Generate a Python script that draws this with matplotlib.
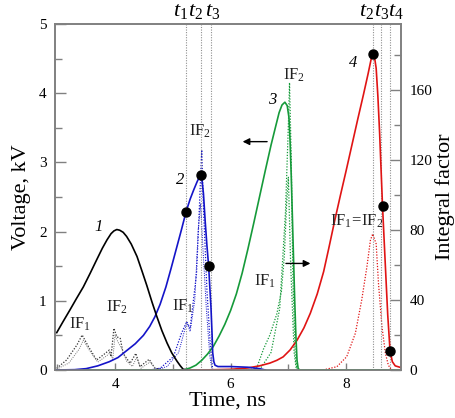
import numpy as np
import matplotlib
matplotlib.use("Agg")
import matplotlib.pyplot as plt
from matplotlib.ticker import MultipleLocator
import matplotlib.transforms as mtransforms

plt.rcParams['font.family'] = ['Liberation Serif', 'DejaVu Serif']
plt.rcParams['mathtext.fontset'] = 'custom'
plt.rcParams['mathtext.rm'] = 'Liberation Serif'
plt.rcParams['mathtext.it'] = 'Liberation Serif:italic'

# ---- voltage curves (kV), left axis ----
t1_ns = [2.99, 3.10, 3.22, 3.33, 3.45, 3.57, 3.68, 3.78, 3.86, 3.93, 3.98, 4.03, 4.08, 4.14, 4.20,
         4.28, 4.38, 4.47, 4.55, 4.64, 4.72, 4.81, 4.90, 4.98, 5.07, 5.13, 5.18, 5.25]
v1_kv = [0.54, 0.70, 0.87, 1.03, 1.20, 1.40, 1.59, 1.76, 1.88, 1.97, 2.01, 2.03, 2.02, 1.99, 1.93,
         1.82, 1.64, 1.42, 1.22, 0.98, 0.78, 0.57, 0.39, 0.25, 0.13, 0.06, 0.01, 0.0]

t2_ns = [2.96, 3.30, 3.50, 3.70, 3.90, 4.05, 4.20, 4.35, 4.49, 4.60, 4.69, 4.78, 4.88, 4.97, 5.06,
         5.15, 5.23, 5.30, 5.36, 5.42, 5.46, 5.48, 5.50, 5.53, 5.56, 5.59, 5.62, 5.64, 5.66, 5.68,
         5.69, 5.71, 5.73, 5.78, 6.00, 6.30, 6.50, 6.60]
v2_kv = [0.0, 0.005, 0.02, 0.06, 0.12, 0.18, 0.28, 0.38, 0.50, 0.63, 0.77, 0.95, 1.20, 1.47, 1.75,
         2.03, 2.29, 2.47, 2.60, 2.72, 2.79, 2.82, 2.78, 2.55, 2.15, 1.80, 1.50, 1.20, 0.91, 0.50,
         0.25, 0.12, 0.07, 0.05, 0.05, 0.04, 0.02, 0.0]

t3_ns = [2.96, 5.18, 5.30, 5.40, 5.50, 5.60, 5.70, 5.80, 5.90, 6.00, 6.10, 6.20, 6.30, 6.40, 6.50,
         6.60, 6.70, 6.78, 6.84, 6.89, 6.94, 6.98, 7.01, 7.03, 7.05, 7.07, 7.09, 7.11, 7.13, 7.15,
         7.17, 7.20, 8.95]
v3_kv = [0.0, 0.0, 0.03, 0.07, 0.14, 0.23, 0.34, 0.49, 0.66, 0.86, 1.10, 1.40, 1.75, 2.12, 2.50,
         2.88, 3.25, 3.52, 3.72, 3.83, 3.87, 3.82, 3.65, 3.30, 2.80, 2.20, 1.60, 1.00, 0.50, 0.14,
         0.02, 0.0, 0.0]

t4_ns = [4.95, 5.50, 6.00, 6.30, 6.50, 6.68, 6.80, 6.91, 7.03, 7.15, 7.27, 7.38, 7.50, 7.61, 7.70,
         7.80, 7.90, 8.00, 8.10, 8.20, 8.30, 8.38, 8.43, 8.46, 8.49, 8.52, 8.55, 8.58, 8.63, 8.68,
         8.72, 8.76, 8.80, 8.85, 8.93]
v4_kv = [0.0, 0.0, 0.01, 0.03, 0.06, 0.10, 0.14, 0.19, 0.29, 0.43, 0.61, 0.82, 1.10, 1.42, 1.76,
         2.15, 2.52, 2.88, 3.25, 3.62, 3.98, 4.28, 4.48, 4.57, 4.53, 4.36, 3.95, 3.42, 2.37, 1.49,
         0.80, 0.28, 0.12, 0.06, 0.04]

# marked points at t1, t2, t3 / t2, t3, t4
dot_t = [5.23, 5.48, 5.62, 8.46, 8.63, 8.76]
dot_v = [2.29, 2.82, 1.50, 4.57, 2.37, 0.28]

# ---- integral factor curves, right axis ----
if_black1_t = [2.99, 3.16, 3.34, 3.43, 3.54, 3.68, 3.83, 3.90, 3.93, 3.98, 4.03, 4.09, 4.14, 4.26, 4.36, 4.43, 4.59, 4.69, 4.90]
if_black1 = [1.0, 5.7, 14.3, 20.0, 13.3, 5.7, 9.5, 11.4, 7.6, 23.8, 19.0, 18.0, 9.5, 3.8, 9.5, 1.9, 6.1, 1.0, 0.0]
if_black2_t = [2.99, 3.20, 3.38, 3.45, 3.56, 3.70, 3.85, 3.92, 3.96, 4.00, 4.05, 4.12, 4.20, 4.30, 4.37, 4.45, 4.60, 4.72, 4.90]
if_black2 = [0.5, 4.0, 12.0, 17.0, 11.0, 4.5, 8.0, 10.0, 6.0, 20.0, 16.0, 12.0, 5.0, 2.0, 7.0, 1.0, 4.5, 0.5, 0.0]

if_blue1_t = [4.60, 4.78, 5.01, 5.15, 5.24, 5.30, 5.41, 5.46, 5.50, 5.53, 5.59, 5.65, 5.69, 6.5]
if_blue1 = [0.0, 1.0, 7.6, 21.0, 27.6, 23.8, 55.0, 93.0, 125.7, 93.0, 45.7, 13.3, 0.0, 0.0]
if_blue2_t = [4.70, 4.90, 5.10, 5.24, 5.30, 5.38, 5.44, 5.48, 5.52, 5.58, 5.64, 5.68]
if_blue2 = [0.0, 2.0, 10.0, 27.0, 22.0, 40.0, 80.0, 95.0, 70.0, 35.0, 8.0, 0.0]

if_green1_t = [6.30, 6.45, 6.57, 6.68, 6.80, 6.88, 6.93, 6.97, 7.00, 7.04, 7.10, 7.14, 8.95]
if_green1 = [0.0, 1.0, 12.0, 20.0, 32.0, 45.0, 65.0, 95.0, 110.0, 60.0, 10.0, 0.0, 0.0]
if_green2_t = [6.50, 6.70, 6.85, 6.95, 7.00, 7.02, 7.05, 7.08, 7.12, 7.15]
if_green2 = [0.0, 10.0, 35.0, 90.0, 140.0, 164.0, 120.0, 50.0, 8.0, 0.0]

if_red_t = [7.60, 7.84, 8.01, 8.16, 8.27, 8.36, 8.42, 8.46, 8.52, 8.56, 8.62, 8.68, 8.73, 8.78, 8.95]
if_red = [0.0, 1.9, 7.6, 21.0, 40.0, 59.0, 74.0, 77.7, 72.0, 49.5, 24.8, 9.5, 2.9, 0.0, 0.0]

# time markers
t_lines = [5.23, 5.49, 5.66, 8.46, 8.60, 8.76]
t_names = ['1', '2', '3', '2', '3', '4']

c_blue = '#1414c8'
c_green = '#169a3a'
c_red = '#e01414'
c_axis = '#808080'
dots = (0, (1, 1.3))

fig = plt.figure(figsize=(4.56, 4.18), dpi=100)
ax = fig.add_axes([0.1206, 0.1148, 0.7588, 0.8278])
ax2 = ax.twinx()

ax.set_xlim(2.96, 8.95)
ax.set_ylim(0, 5)
ax2.set_ylim(0, 197.5)

# integral factors (dotted)
ax2.plot(if_black1_t, if_black1, ls=dots, color='#333333', lw=0.9)
ax2.plot(if_black2_t, if_black2, ls=dots, color='#777777', lw=0.7)
ax2.plot(if_blue1_t, if_blue1, ls=dots, color=c_blue, lw=0.9)
ax2.plot(if_blue2_t, if_blue2, ls=dots, color=c_blue, lw=0.7)
ax2.plot(if_green1_t, if_green1, ls=dots, color=c_green, lw=0.9)
ax2.plot(if_green2_t, if_green2, ls=dots, color=c_green, lw=0.9)
ax2.plot(if_red_t, if_red, ls=dots, color=c_red, lw=0.9)

# vertical time marker lines
for x in t_lines:
    ax.axvline(x, color='#909090', ls=dots, lw=0.8, zorder=1)

# voltage curves
ax.plot(t4_ns, v4_kv, color=c_red, lw=1.2)
ax.plot(t3_ns, v3_kv, color=c_green, lw=1.2)
ax.plot(t2_ns, v2_kv, color=c_blue, lw=1.2)
ax.plot(t1_ns, v1_kv, color='black', lw=1.2)
ax.plot(dot_t, dot_v, 'o', color='black', ms=6.5, zorder=5)

ax.set_zorder(ax2.get_zorder() + 1)
ax.patch.set_visible(False)

# ticks / spines
for a in (ax, ax2):
    for s in a.spines.values():
        s.set_color(c_axis)
        s.set_linewidth(1.2)
ax.xaxis.set_major_locator(MultipleLocator(2))
ax.xaxis.set_minor_locator(MultipleLocator(1))
ax.yaxis.set_major_locator(MultipleLocator(1))
ax.yaxis.set_minor_locator(MultipleLocator(0.5))
ax2.yaxis.set_major_locator(MultipleLocator(40))
ax2.yaxis.set_minor_locator(MultipleLocator(20))
ax.tick_params(which='both', direction='in', color=c_axis, labelsize=11, width=1)
ax.tick_params(which='major', length=8, pad=6)
ax.tick_params(which='minor', length=5)
ax.tick_params(axis='x', which='major', length=5)
ax.tick_params(axis='x', which='minor', length=4)
ax.tick_params(top=False, right=False)
ax2.tick_params(which='both', direction='in', color=c_axis, labelsize=11, width=1)
ax2.tick_params(which='major', length=8, pad=6)
ax2.tick_params(which='minor', length=5)

ax.set_xlabel('Time, ns', fontsize=16, labelpad=0)
ax.set_ylabel('Voltage, kV', fontsize=16, labelpad=6)
ax2.set_ylabel('Integral factor', fontsize=16, labelpad=2)

# t labels above the axes
trans = mtransforms.blended_transform_factory(ax.transData, ax.transAxes)
t_label_x = [5.13, 5.40, 5.69, 8.36, 8.61, 8.86]
for x, n in zip(t_label_x, t_names):
    ax.text(x, 1.01, r'$t_{\mathit{%s}}$' % n, transform=trans, fontsize=16,
            ha='center', va='bottom')

# curve numbers
for x, y, s in [(3.72, 2.06, '1'), (5.13, 2.74, '2'), (6.72, 3.90, '3'), (8.12, 4.43, '4')]:
    ax.text(x, y, s, fontsize=12, style='italic', ha='center', va='center')

# IF labels
if_lab = [(3.39, 0.66, r'$\mathrm{IF}_1$'), (4.03, 0.90, r'$\mathrm{IF}_2$'),
          (5.18, 0.92, r'$\mathrm{IF}_1$'), (5.47, 3.45, r'$\mathrm{IF}_2$'),
          (7.09, 4.26, r'$\mathrm{IF}_2$'), (6.60, 1.28, r'$\mathrm{IF}_1$'),
          (8.19, 2.15, r'$\mathrm{IF}_1\!=\!\mathrm{IF}_2$')]
for x, y, s in if_lab:
    ax.text(x, y, s, fontsize=12, color='#222222', ha='center', va='center')

# direction arrows
ax.annotate('', xy=(6.16, 3.30), xytext=(6.68, 3.30),
            arrowprops=dict(arrowstyle='-|>', color='black', lw=1, mutation_scale=10))
ax.annotate('', xy=(7.43, 1.54), xytext=(6.91, 1.54),
            arrowprops=dict(arrowstyle='-|>', color='black', lw=1, mutation_scale=10))

fig.savefig('out.png', dpi=100)
